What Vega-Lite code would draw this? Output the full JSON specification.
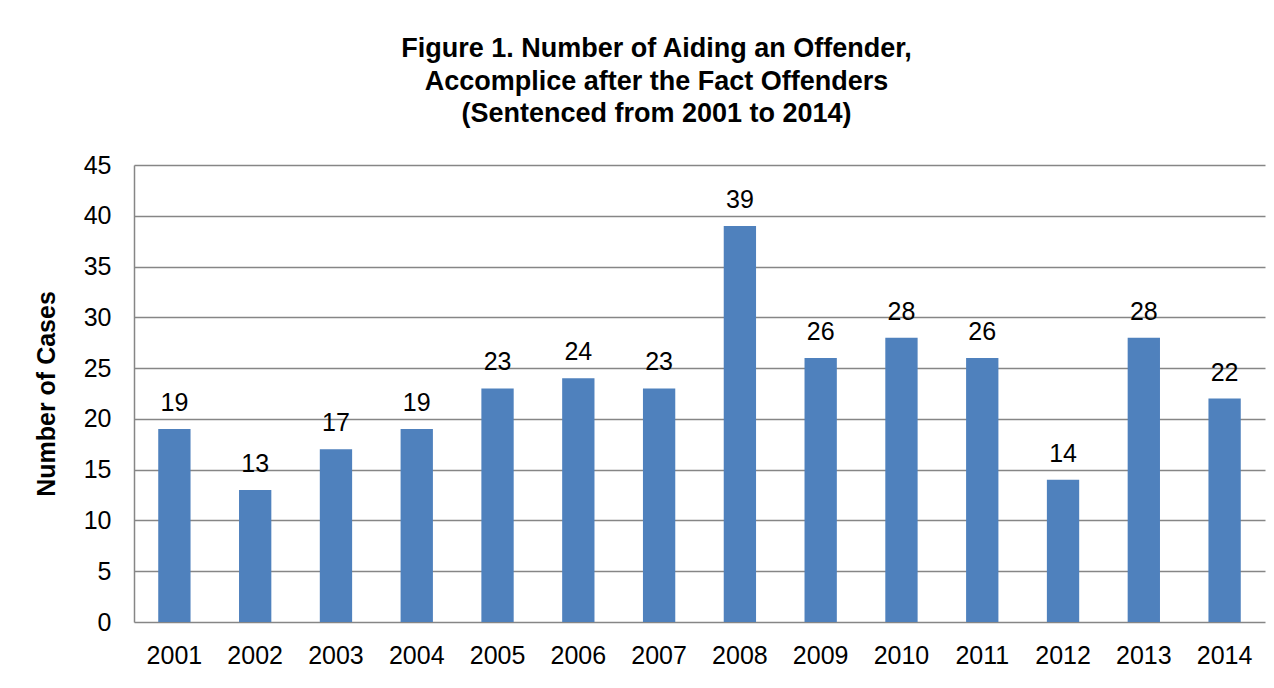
{
  "$schema": "https://vega.github.io/schema/vega-lite/v6.json",
  "autosize": "none",
  "width": 1131,
  "height": 457,
  "padding": {"left": 134, "top": 165, "right": 9, "bottom": 66},
  "background": "white",
  "title": {
    "text": ["Figure 1. Number of Aiding an Offender,", "Accomplice after the Fact Offenders", "(Sentenced from 2001 to 2014)"],
    "font": "Liberation Sans",
    "fontSize": 27,
    "fontWeight": "bold",
    "color": "#000000",
    "lineHeight": 32.5,
    "anchor": "middle",
    "frame": "group",
    "dx": -43,
    "offset": 25
  },
  "data": {
    "values": [
      {"year": "2001", "cases": 19},
      {"year": "2002", "cases": 13},
      {"year": "2003", "cases": 17},
      {"year": "2004", "cases": 19},
      {"year": "2005", "cases": 23},
      {"year": "2006", "cases": 24},
      {"year": "2007", "cases": 23},
      {"year": "2008", "cases": 39},
      {"year": "2009", "cases": 26},
      {"year": "2010", "cases": 28},
      {"year": "2011", "cases": 26},
      {"year": "2012", "cases": 14},
      {"year": "2013", "cases": 28},
      {"year": "2014", "cases": 22}
    ]
  },
  "encoding": {
    "x": {
      "field": "year",
      "type": "ordinal",
      "scale": {"paddingInner": 0.6, "paddingOuter": 0.3},
      "axis": {
        "title": null,
        "labelAngle": 0,
        "labelFont": "Liberation Sans",
        "labelFontSize": 25,
        "labelColor": "#000000",
        "labelPadding": 21,
        "ticks": false,
        "domain": false,
        "grid": false
      }
    },
    "y": {
      "field": "cases",
      "type": "quantitative",
      "scale": {"domain": [0, 45]},
      "axis": {
        "title": "Number of Cases",
        "titleFont": "Liberation Sans",
        "titleFontSize": 25,
        "titleFontWeight": "bold",
        "titleColor": "#000000",
        "titlePadding": 24,
        "values": [0, 5, 10, 15, 20, 25, 30, 35, 40, 45],
        "labelFont": "Liberation Sans",
        "labelFontSize": 25,
        "labelColor": "#000000",
        "labelPadding": 23,
        "ticks": false,
        "domain": true,
        "domainColor": "#868686",
        "domainWidth": 1.5,
        "grid": true,
        "gridColor": "#868686",
        "gridWidth": 1.5
      }
    }
  },
  "layer": [
    {"mark": {"type": "bar", "color": "#4F81BD"}},
    {
      "mark": {
        "type": "text",
        "baseline": "alphabetic",
        "dy": -18,
        "font": "Liberation Sans",
        "fontSize": 25,
        "color": "#000000"
      },
      "encoding": {"text": {"field": "cases", "type": "quantitative"}}
    }
  ],
  "config": {"view": {"stroke": null}}
}
